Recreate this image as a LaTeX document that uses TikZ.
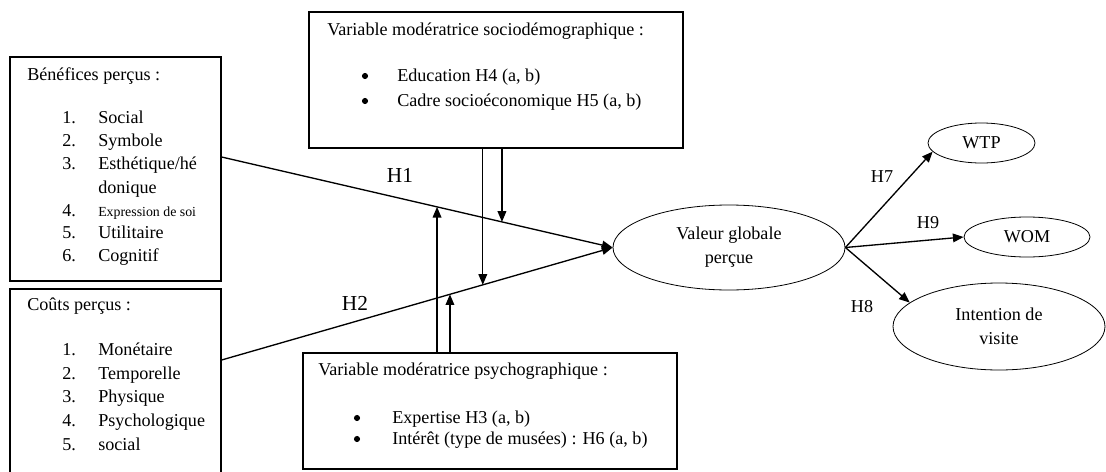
\documentclass[tikz,border=0pt]{standalone}
\usepackage{fontspec}
\setmainfont{Liberation Serif}
\usetikzlibrary{arrows.meta,calc,shapes.geometric}

\begin{document}
\begin{tikzpicture}[x=0.75pt,y=-0.75pt,
  font=\fontsize{13.6pt}{18pt}\selectfont,
  box/.style={draw, line width=0.9pt, inner sep=0pt},
  oval/.style={draw, ellipse, line width=0.6pt, inner sep=0pt, align=center},
  txt/.style={inner sep=0pt, anchor=west, text height=1.6ex, text depth=.4ex},
  dot/.style={circle, fill, inner sep=0pt, minimum size=4.6pt},
  hyp/.style={inner sep=0pt},
  arr/.style={line width=1pt, -{Triangle[length=8pt,width=6.5pt]}}]
  \useasboundingbox (0,0) rectangle (1106,471);

  % antecedents
  \node[box, minimum width=158.25pt, minimum height=168pt] (ben) at (115.5,169) {};
  \node[box, minimum width=158.25pt, minimum height=141pt] (cout) at (115.5,383) {};

  \node[txt] (bentitle) at (27,77) {Bénéfices perçus :};
  \foreach \n/\y in {1/120, 2/143, 3/166, 4/213, 5/235, 6/258}
    \node[txt] (bn\n) at (62,\y) {\n.};
  \node[txt] (bi1) at (98,120) {Social};
  \node[txt] (bi2) at (98,143) {Symbole};
  \node[txt] (bi3) at (98,166) {Esthétique/hé};
  \node[txt] (bi3b) at (98,190) {donique};
  \node[txt, font=\fontsize{10.4pt}{12pt}\selectfont] (bi4) at (98,213) {Expression de soi};
  \node[txt] (bi5) at (98,235) {Utilitaire};
  \node[txt] (bi6) at (98,258) {Cognitif};

  \node[txt] (couttitle) at (27,307) {Coûts perçus :};
  \foreach \n/\y/\t in {1/352/Monétaire, 2/376/Temporelle, 3/399/Physique,
                        4/423/Psychologique, 5/447/social} {
    \node[txt] (cn\n) at (62,\y) {\n.};
    \node[txt] (ci\n) at (98,\y) {\t};
  }

  % moderators
  \node[box, minimum width=280.5pt, minimum height=102pt] (socio) at (496,80) {};
  \node[txt] (sociotitle) at (327,32) {Variable modératrice sociodémographique :};
  \node[dot] (sb1) at (365,76) {};
  \node[dot] (sb2) at (365,101) {};
  \node[txt] (si1) at (397,78) {Education H4 (a, b)};
  \node[txt] (si2) at (397,103) {Cadre socioéconomique H5 (a, b)};

  \node[box, minimum width=280.5pt, minimum height=87pt] (psycho) at (490,411) {};
  \node[txt] (psychotitle) at (318,372) {Variable modératrice psychographique :};
  \node[dot] (pb1) at (357,418) {};
  \node[dot] (pb2) at (357,439) {};
  \node[txt] (pi1) at (392,420) {Expertise H3 (a, b)};
  \node[txt] (pi2) at (392,441) {Intérêt (type de musées) : H6 (a, b)};

  % outcomes
  \node[oval, minimum width=174pt, minimum height=63.75pt] (val) at (729,247.5) {Valeur globale\\perçue};
  \node[oval, minimum width=80.25pt, minimum height=30pt] (wtp) at (981.5,143) {WTP};
  \node[oval, minimum width=94.5pt, minimum height=30pt] (wom) at (1027,237) {WOM};
  \node[oval, minimum width=159pt, minimum height=65.25pt] (int) at (999,326.5) {Intention de\\visite};

  % main paths
  \coordinate (b1) at (ben.east |- 0,157);
  \coordinate (c1) at (cout.east |- 0,360);
  \draw[arr] (b1) -- (val.west);
  \draw[arr] (c1) -- (val.west);
  \node[hyp, font=\fontsize{16pt}{18pt}\selectfont] (h1) at (400,175) {H1};
  \node[hyp, font=\fontsize{16pt}{18pt}\selectfont] (h2) at (355,303) {H2};

  % moderating arrows
  \coordinate (m1) at ($(b1)!0.717!(val.west)$);
  \coordinate (m2) at ($(c1)!0.668!(val.west)$);
  \coordinate (m3) at ($(b1)!0.551!(val.west)$);
  \coordinate (m4) at ($(c1)!0.584!(val.west)$);
  \draw[arr] (m1 |- socio.south) -- (m1);
  \draw[arr] (m2 |- socio.south) -- (m2);
  \draw[arr] (m3 |- psycho.north) -- (m3);
  \draw[arr] (m4 |- psycho.north) -- (m4);

  % consequences
  \draw[arr] (val.east) -- (wtp.190);
  \draw[arr] (val.east) -- (wom.west);
  \draw[arr] (val.east) -- (int.165);
  \node[hyp] (h7) at (882,177) {H7};
  \node[hyp] (h9) at (928,223) {H9};
  \node[hyp] (h8) at (862,307) {H8};
\end{tikzpicture}
\end{document}
